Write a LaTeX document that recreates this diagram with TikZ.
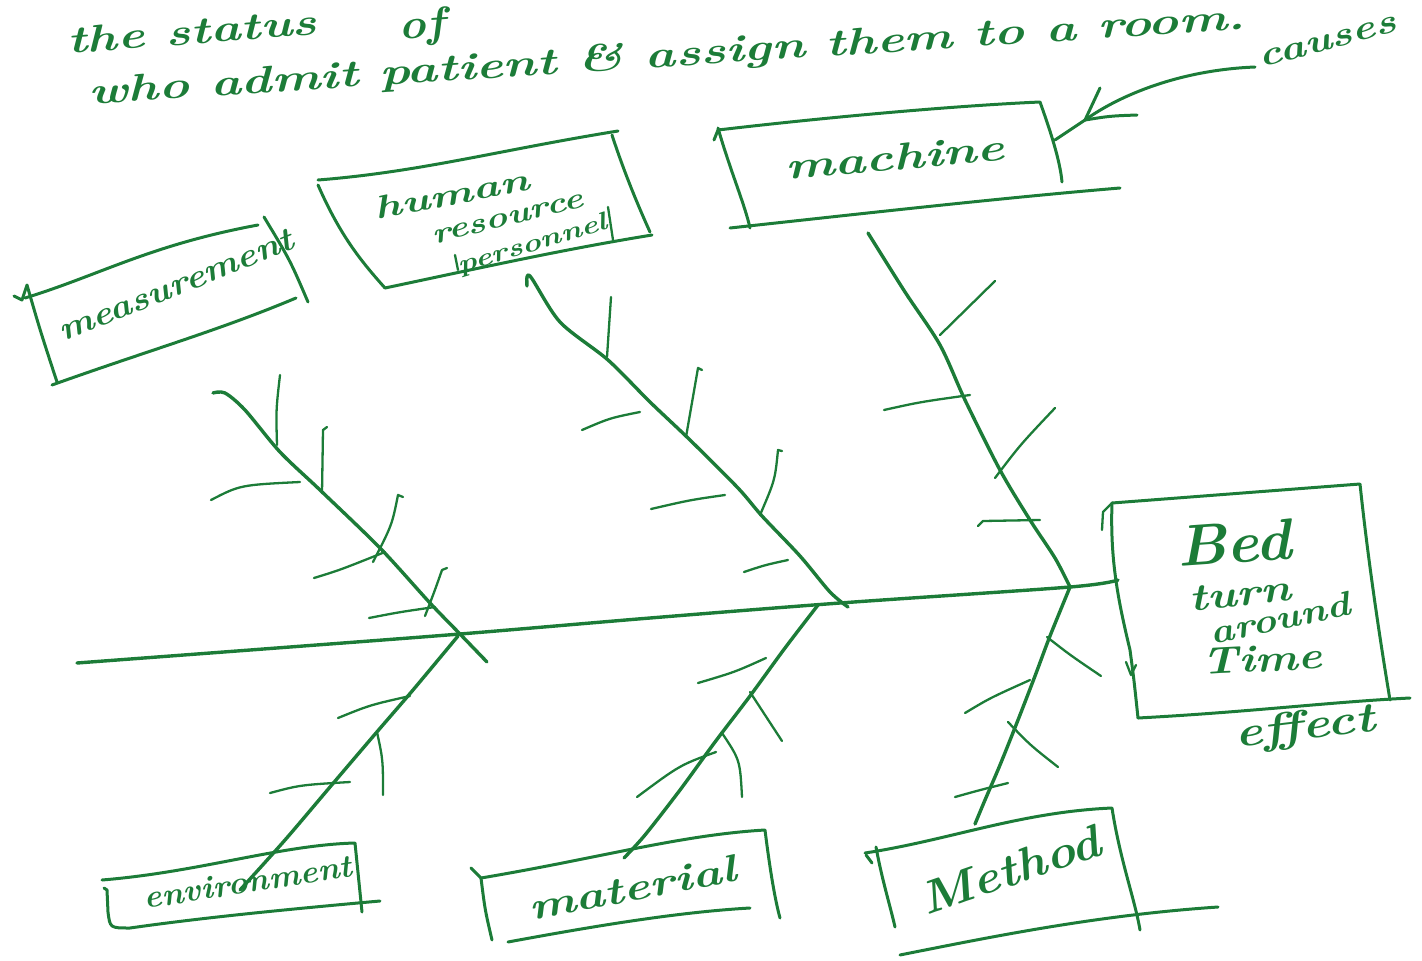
\documentclass[tikz,border=0pt]{standalone}
\usepackage{fontspec}
\usepackage{graphicx}
\definecolor{hg}{RGB}{28,124,56}
\tikzset{
  stroke/.style={draw=hg,line width=3pt,line cap=round,line join=round},
  spine/.style={draw=hg,line width=3.4pt,line cap=round,line join=round},
  rib/.style={draw=hg,line width=2.3pt,line cap=round,line join=round},
  hw/.style={text=hg,inner sep=0pt,font=\bfseries\itshape},
}
\newcommand{\hwt}[3]{\fontsize{#1}{#1}\selectfont\scalebox{#2}[1]{#3}}
\begin{document}
\begin{tikzpicture}[x=1pt,y=-1pt]
\useasboundingbox (0,0) rectangle (1422,961);

% ---------- heading text ----------
\node[hw,rotate=4.5] (t1) at (192,31) {\hwt{38}{1.35}{the status}};
\node[hw,rotate=4] (t1b) at (422,27) {\hwt{42}{1.1}{of}};
\node[hw,rotate=3.7] (t2) at (667,57) {\hwt{38}{1.36}{who admit patient \& assign them to a room.}};
\node[hw,rotate=15] (causes) at (1328,42) {\hwt{34}{1.3}{causes}};

% ---------- key coordinates ----------
\coordinate (tail) at (77,663);
\coordinate (j1) at (460,634);
\coordinate (j2) at (840,603);
\coordinate (j3) at (1070,587);
\coordinate (head) at (1118,580);

% ---------- spine ----------
\draw[spine] plot[smooth] coordinates {(tail) (270,648.5) (j1) (650,618) (j2) (j3) (head)};

% ---------- effect box ----------
\coordinate (eTL) at (1112,503);
\coordinate (eTR) at (1360,484);
\coordinate (eBR) at (1390,700);
\coordinate (eBL) at (1138,718);
\draw[stroke] (eTL) -- (eTR) .. controls (1368,560) and (1380,640) .. (eBR);
\draw[stroke] (eBL) .. controls (1250,712) and (1330,702) .. (1410,698);
\draw[stroke] (eTL) .. controls (1110,560) and (1118,600) .. (1130,650) .. controls (1134,680) .. (eBL);
\draw[rib] (1102,530) -- (1103,512) -- (eTL);
\draw[rib] (1126,662) -- (1131,675) -- (1136,665);
\node[hw,rotate=4] (bed) at (1234,543) {\hwt{58}{1.05}{Bed}};
\node[hw,rotate=6] (turn) at (1240,594) {\hwt{38}{1.25}{turn}};
\node[hw,rotate=12] (around) at (1280,618) {\hwt{34}{1.2}{around}};
\node[hw,rotate=3] (time) at (1262,659) {\hwt{38}{1.2}{Time}};
\node[hw,rotate=7] (effect) at (1305,729) {\hwt{42}{1.25}{effect}};

% ---------- machine box ----------
\draw[stroke] (718,130) .. controls (820,118) and (950,106) .. (1040,102) .. controls (1050,130) and (1060,160) .. (1062,182);
\draw[stroke] (718,128) .. controls (730,170) and (745,205) .. (750,228);
\draw[stroke] (714,140) -- (718,130);
\draw[stroke] (730,228) .. controls (850,215) and (1000,198) .. (1120,188);
\node[hw,rotate=5] (machine) at (895,157) {\hwt{38}{1.38}{machine}};
% arrow from "causes"
\coordinate (ctip) at (1085,120);
\draw[stroke] (1255,67) .. controls (1180,70) and (1120,95) .. (ctip);
\draw[stroke] (ctip) -- (1100,88);
\draw[stroke] (ctip) .. controls (1110,116) .. (1137,115);
\draw[stroke] (ctip) -- (1055,140);

% ---------- machine bone ----------
\draw[spine] plot[smooth] coordinates {(868,233) (905,292) (940,345) (965,400) (1000,470) (1030,520) (1055,558) (j3)};
\draw[rib] (940,335) -- (995,281);
\draw[rib] (884,410) .. controls (920,402) .. (970,395);
\draw[rib] (995,478) .. controls (1020,445) .. (1055,408);
\draw[rib] (978,526) -- (983,521) -- (1040,520);

% ---------- human resource box ----------
\draw[stroke] (318,180) .. controls (420,172) and (500,150) .. (618,131);
\draw[stroke] (612,135) .. controls (625,175) and (640,210) .. (650,232);
\draw[stroke] (385,288) .. controls (480,268) and (560,250) .. (652,235);
\draw[stroke] (318,185) .. controls (340,235) and (360,260) .. (385,288);
\draw[rib] (608,207) -- (613,240);
\draw[rib] (455,255) -- (458,270);
\node[hw,rotate=11] (human) at (452,194) {\hwt{32}{1.45}{human}};
\node[hw,rotate=14] (resource) at (508,219) {\hwt{29}{1.3}{resource}};
\node[hw,rotate=17] (personnel) at (533,245) {\hwt{25}{1.3}{personnel}};

% ---------- human resource bone ----------
\draw[spine] plot[smooth] coordinates {(527,286) (530,276) (560,322) (608,360) (650,402) (690,440) (738,488) (762,516) (800,556) (830,592) (848,607)};
\draw[rib] (607,357) -- (611,297);
\draw[rib] (582,430) .. controls (610,418) .. (640,412);
\draw[rib] (686,437) -- (698,368) -- (702,370);
\draw[rib] (651,509) .. controls (690,500) .. (725,495);
\draw[rib] (760,515) .. controls (775,480) .. (778,450) -- (782,451);
\draw[rib] (744,572) .. controls (765,565) .. (788,560);

% ---------- measurement box ----------
\draw[stroke] (25,298) .. controls (100,275) and (150,245) .. (258,225);
\draw[stroke] (14,296) -- (22,300) -- (27,285) .. controls (40,330) .. (57,382);
\draw[stroke] (264,217) .. controls (290,260) .. (308,302);
\draw[stroke] (52,385) .. controls (150,350) and (220,330) .. (296,298);
\node[hw,rotate=22] (meas) at (176,285) {\hwt{33}{1.15}{measurement}};

% ---------- measurement bone ----------
\draw[spine] plot[smooth] coordinates {(213,393) (225,393) (245,410) (280,452) (320,490) (380,548) (430,603) (j1) (487,662)};
\draw[rib] (280,375) .. controls (276,410) .. (277,445);
\draw[rib] (327,427) -- (323,430) -- (322,493);
\draw[rib] (211,500) .. controls (240,485) .. (300,482);
\draw[rib] (373,562) .. controls (392,525) .. (398,495) -- (403,497);
\draw[rib] (314,578) .. controls (340,570) .. (385,552);
\draw[rib] (425,616) .. controls (435,590) .. (442,570) -- (447,568);
\draw[rib] (369,618) .. controls (400,612) .. (435,607);

% ---------- environment bone ----------
\draw[spine] plot[smooth] coordinates {(458,636) (413,690) (376,733) (330,787) (285,840) (240,890)};
\draw[rib] (338,718) .. controls (370,705) .. (410,696);
\draw[rib] (377,732) .. controls (383,760) .. (383,795);
\draw[rib] (270,793) .. controls (300,785) .. (350,782);

% ---------- environment box ----------
\draw[stroke] (102,880) .. controls (200,872) and (280,845) .. (355,843) -- (362,912);
\draw[stroke] (380,901) .. controls (280,910) and (200,918) .. (130,928) .. controls (110,928) .. (108,912) -- (107,890) -- (104,888);
\node[hw,rotate=9] (env) at (248,882) {\hwt{32}{1.05}{environment}};

% ---------- material bone ----------
\draw[spine] plot[smooth] coordinates {(818,605) (785,648) (750,696) (715,742) (680,790) (645,835) (624,858)};
\draw[rib] (698,683) .. controls (735,672) .. (766,658);
\draw[rib] (750,692) .. controls (765,715) .. (782,741);
\draw[rib] (722,733) .. controls (740,760) .. (742,797);
\draw[rib] (637,797) .. controls (680,765) .. (716,752);

% ---------- material box ----------
\draw[stroke] (471,868) -- (481,878) .. controls (600,858) and (680,835) .. (765,830) .. controls (770,870) and (775,900) .. (780,918);
\draw[stroke] (481,878) .. controls (485,910) .. (492,940);
\draw[stroke] (508,942) .. controls (600,925) and (680,912) .. (750,908);
\node[hw,rotate=11] (mat) at (632,888) {\hwt{38}{1.32}{material}};

% ---------- method bone ----------
\draw[spine] plot[smooth] coordinates {(j3) (1050,636) (1035,676) (1018,720) (1000,765) (985,800) (975,824)};
\draw[rib] (1047,637) .. controls (1070,655) .. (1101,676);
\draw[rib] (965,713) .. controls (990,698) .. (1030,680);
\draw[rib] (1008,722) .. controls (1030,745) .. (1058,767);
\draw[rib] (955,797) .. controls (980,790) .. (1008,783);

% ---------- method box ----------
\draw[stroke] (865,853) .. controls (950,840) and (1020,812) .. (1112,808) .. controls (1120,860) and (1135,900) .. (1140,930);
\draw[stroke] (876,847) .. controls (882,880) and (890,905) .. (895,927);
\draw[stroke] (866,855) -- (872,863);
\draw[stroke] (900,955) .. controls (1000,935) and (1100,915) .. (1218,907);
\node[hw,rotate=19] (method) at (1010,870) {\hwt{46}{1.1}{Method}};

\end{tikzpicture}
\end{document}
